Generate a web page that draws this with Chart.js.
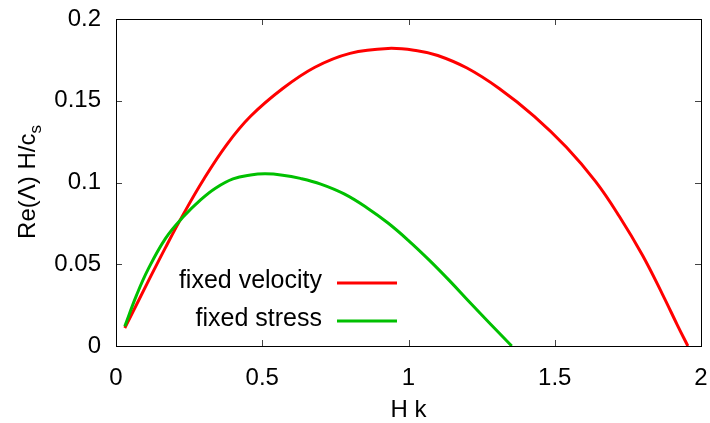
<!DOCTYPE html>
<html lang="en">
<head>
  <meta charset="UTF-8">
  <title>Growth rate vs Hk</title>
  <script src="https://cdn.jsdelivr.net/npm/chart.js"></script>
  <style>
    html, body { margin: 0; padding: 0; background: #fff; }
  </style>
</head>
<body>
  <canvas id="myChart" width="710" height="423"></canvas>

  <script>
    // data
    const kVelocity = [0.03, 0.11, 0.17, 0.23, 0.30, 0.38, 0.46, 0.57, 0.68, 0.80, 0.93, 1.03, 1.10, 1.20, 1.31, 1.43, 1.54, 1.64, 1.72, 1.80, 1.87, 1.92, 1.955];
    const reVelocity = [0.011, 0.0395, 0.0605, 0.0805, 0.102, 0.1235, 0.1405, 0.1575, 0.1705, 0.1790, 0.1820, 0.1806, 0.1777, 0.1700, 0.1575, 0.1405, 0.1215, 0.1005, 0.0795, 0.0555, 0.0310, 0.0125, 0];

    const kStress = [0.03, 0.07, 0.11, 0.17, 0.23, 0.29, 0.34, 0.40, 0.46, 0.51, 0.57, 0.63, 0.70, 0.78, 0.86, 0.93, 1.00, 1.07, 1.14, 1.21, 1.28, 1.353];
    const reStress = [0.012, 0.031, 0.047, 0.066, 0.0790, 0.0895, 0.0965, 0.1022, 0.1046, 0.1053, 0.1045, 0.1025, 0.0990, 0.0930, 0.0843, 0.0752, 0.0645, 0.0527, 0.0400, 0.0266, 0.0135, 0];

    const seriesNames = ['fixed velocity', 'fixed stress'];
    const xTicks = [0, 0.5, 1, 1.5, 2];
    const yTicks = [0, 0.05, 0.1, 0.15, 0.2];

    const FONT = "'Liberation Sans', Arial, Helvetica, sans-serif";
    const RED = '#ff0000';
    const GREEN = '#00c000';

    const toPoints = (xs, ys) => xs.map((x, i) => ({ x: x, y: ys[i] }));

    // frame, inward ticks, legend, axis titles (gnuplot look)
    const framePlugin = {
      id: 'frame',
      afterDraw(chart) {
        const ctx = chart.ctx;
        const a = chart.chartArea;
        const xs = chart.scales.x;
        const ys = chart.scales.y;
        ctx.save();

        // ticks
        ctx.strokeStyle = '#444';
        ctx.lineWidth = 1;
        ctx.beginPath();
        xTicks.forEach(v => {
          const px = Math.round(xs.getPixelForValue(v)) + 0.5;
          ctx.moveTo(px, a.bottom); ctx.lineTo(px, a.bottom - 6);
          ctx.moveTo(px, a.top); ctx.lineTo(px, a.top + 6);
        });
        yTicks.forEach(v => {
          const py = Math.round(ys.getPixelForValue(v)) + 0.5;
          ctx.moveTo(a.left, py); ctx.lineTo(a.left + 6, py);
          ctx.moveTo(a.right, py); ctx.lineTo(a.right - 6, py);
        });
        ctx.stroke();

        // frame
        ctx.strokeStyle = '#000';
        ctx.strokeRect(Math.round(a.left) + 0.5, Math.round(a.top) + 0.5,
                       Math.round(a.right - a.left), Math.round(a.bottom - a.top));

        // legend
        ctx.font = '25px ' + FONT;
        ctx.fillStyle = '#000';
        ctx.textAlign = 'right';
        ctx.textBaseline = 'middle';
        const colors = [RED, GREEN];
        const rows = [281, 319];
        seriesNames.forEach((name, i) => {
          ctx.fillText(name, 322, rows[i]);
          ctx.strokeStyle = colors[i];
          ctx.lineWidth = 3;
          ctx.beginPath();
          ctx.moveTo(337, rows[i] + 2);
          ctx.lineTo(397, rows[i] + 2);
          ctx.stroke();
        });

        // x title
        ctx.font = '24px ' + FONT;
        ctx.textAlign = 'center';
        ctx.fillText('H k', (a.left + a.right) / 2, 410);

        // y title with subscript
        ctx.translate(27, 182);
        ctx.rotate(-Math.PI / 2);
        ctx.textAlign = 'left';
        ctx.textBaseline = 'alphabetic';
        const main = 'Re(\u039B) H/c';
        ctx.font = '24px ' + FONT;
        const wMain = ctx.measureText(main).width;
        ctx.font = '17px ' + FONT;
        const wSub = ctx.measureText('s').width;
        const start = -(wMain + wSub) / 2;
        ctx.font = '24px ' + FONT;
        ctx.fillText(main, start, 8);
        ctx.font = '17px ' + FONT;
        ctx.fillText('s', start + wMain, 14);

        ctx.restore();
      }
    };

    const ctx = document.getElementById('myChart').getContext('2d');
    const myChart = new Chart(ctx, {
      type: 'line',
      data: {
        datasets: [
          {
            label: seriesNames[0],
            data: toPoints(kVelocity, reVelocity),
            borderColor: RED,
            borderWidth: 3,
            order: 1
          },
          {
            label: seriesNames[1],
            data: toPoints(kStress, reStress),
            borderColor: GREEN,
            borderWidth: 3,
            order: 0
          }
        ]
      },
      options: {
        responsive: false,
        animation: false,
        layout: { padding: { top: 19, right: 9, left: 0, bottom: 0 } },
        elements: {
          point: { radius: 0 },
          line: { tension: 0.4, fill: false }
        },
        plugins: {
          legend: { display: false },
          tooltip: { enabled: false }
        },
        scales: {
          x: {
            type: 'linear',
            min: 0,
            max: 2,
            afterBuildTicks: s => { s.ticks = xTicks.map(v => ({ value: v })); },
            afterFit: s => {
              s.height = 77;
              s.paddingLeft = 0; s.paddingRight = 0;
            },
            grid: { display: false, drawTicks: false },
            border: { display: false },
            ticks: {
              padding: 18,
              maxRotation: 0,
              color: '#000',
              font: { family: FONT, size: 24 },
              callback: v => String(+Number(v).toFixed(2))
            }
          },
          y: {
            min: 0,
            max: 0.2,
            afterBuildTicks: s => { s.ticks = yTicks.map(v => ({ value: v })); },
            afterFit: s => {
              s.width = 116;
              s.paddingTop = 0; s.paddingBottom = 0;
            },
            grid: { display: false, drawTicks: false },
            border: { display: false },
            ticks: {
              padding: 15,
              color: '#000',
              font: { family: FONT, size: 24 },
              callback: v => String(+Number(v).toFixed(2))
            }
          }
        }
      },
      plugins: [framePlugin]
    });
  </script>
</body>
</html>
